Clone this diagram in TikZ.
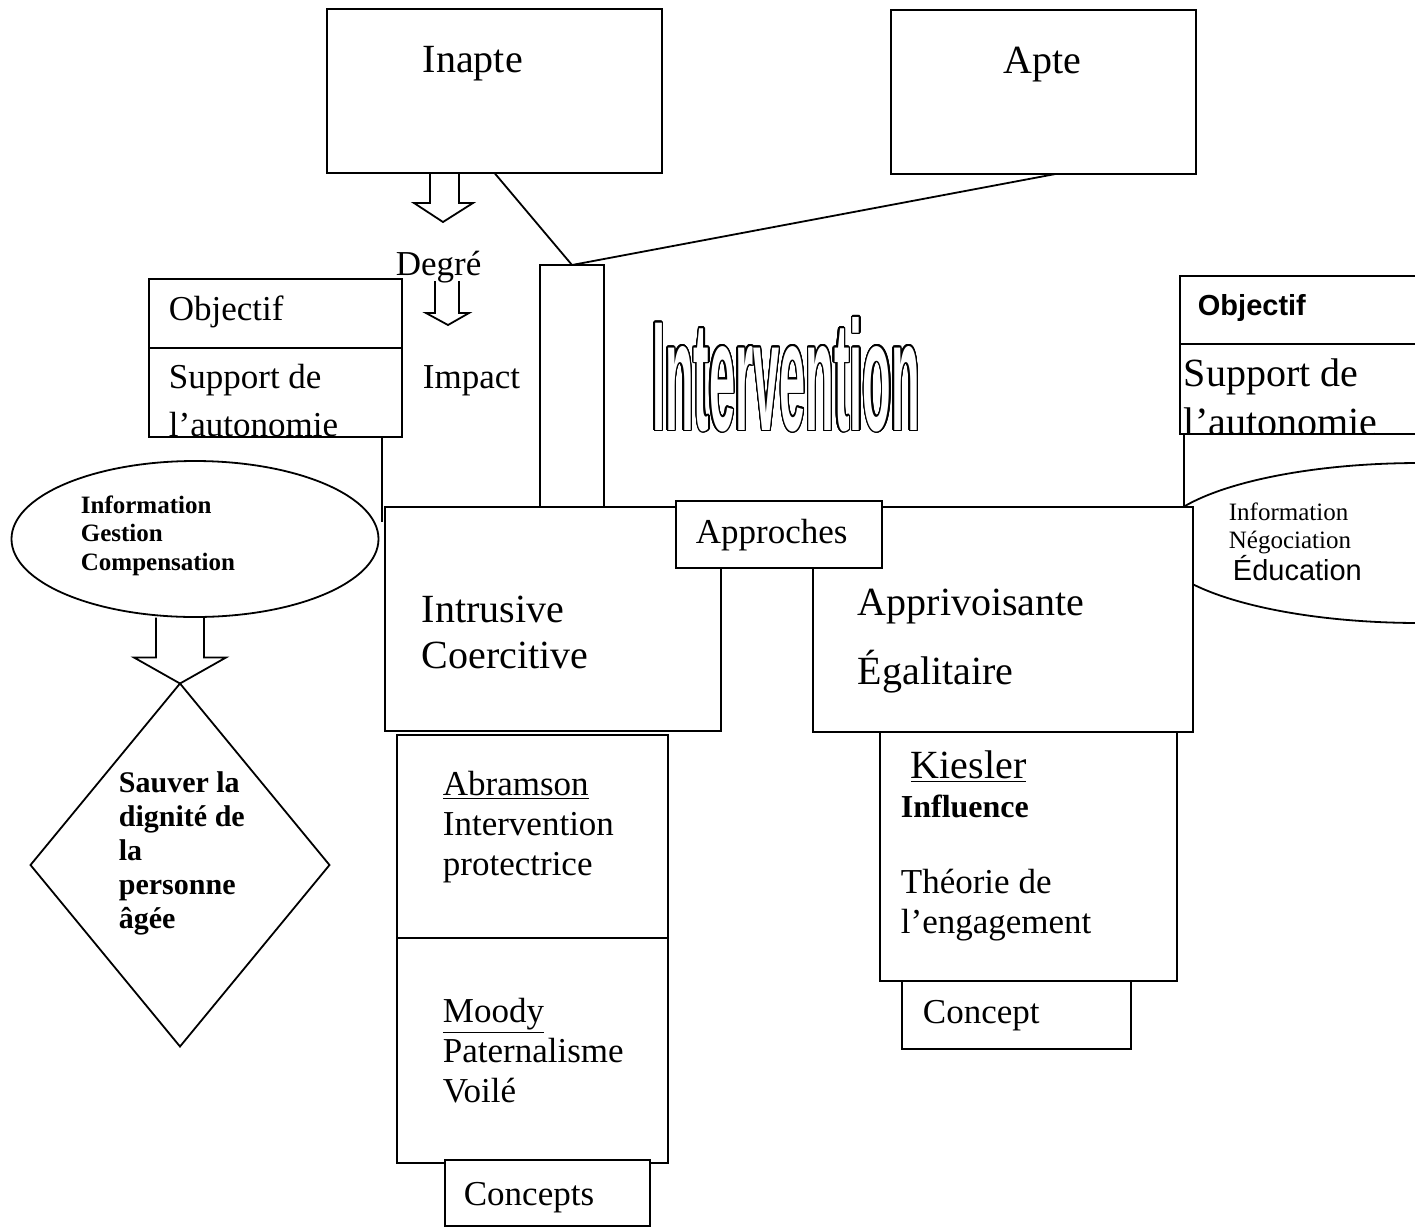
\documentclass[tikz,border=0pt]{standalone}
\usepackage{fontspec}
\setmainfont{Liberation Serif}
\newfontfamily\sansfont{Liberation Sans}
\newfontfamily\outlinefont[FakeStretch=0.3]{Liberation Sans}
\usepackage{contour}
\contourlength{0.7pt}
\contournumber{24}
\usetikzlibrary{shapes.geometric,fit,calc}

\begin{document}
\begin{tikzpicture}[x=0.5pt,y=-0.5pt,line width=0.9pt,
  cadre/.style={draw,fill=white,inner sep=0pt,outer sep=0pt},
  lbl/.style={anchor=base west,inner sep=0pt,align=left},
  bigtxt/.style={font=\fontsize{20}{23}\selectfont},
  midtxt/.style={font=\fontsize{17.5}{20}\selectfont},
  boldtxt/.style={font=\fontsize{12.5}{14.25}\selectfont\bfseries}]
\useasboundingbox (0,0) rectangle (1415,1228);
\clip (0,0) rectangle (1415,1228);

% titre
\node[anchor=base,inner sep=0pt,font=\outlinefont\bfseries\fontsize{78}{78}\selectfont] (titre) at (786,430) {\color{white}\contour{black}{Intervention}};

% ellipses
\node[draw,fill=white,ellipse,inner sep=0pt,outer sep=0pt,minimum width=265pt,minimum height=80pt] (negoc) at (1420,543) {};
\node[draw,fill=white,ellipse,inner sep=0pt,outer sep=0pt,minimum width=183.5pt,minimum height=78pt] (gestion) at (195,539) {};
\node[lbl,boldtxt] (gestiontxt) at (80,570) {Information\\Gestion\\Compensation};

% haut
\node[cadre,fit={(327,9) (662,173)}] (inapte) {};
\node[cadre,fit={(891,10) (1196,174)}] (apte) {};
\node[lbl,bigtxt] (inaptetxt) at (422,72) {Inapte};
\node[lbl,bigtxt] (aptetxt) at (1003,73) {Apte};
\node[cadre,fit={(540,265) (604,507)}] (pilier) {};
\draw (inapte.south) -- (pilier.north);
\draw ($(apte.south)+(12,0)$) -- (pilier.north);

% degre / impact
\draw (430,173) -- (430,203) -- (414,203) -- (443,222) -- (473,203) -- (459,203) -- (459,173);
\node[lbl,midtxt] (degre) at (395,275) {Degré};
\draw (435,281) -- (435,313) -- (426,313) -- (448,325) -- (469,313) -- (459,313) -- (459,281);
\node[lbl,midtxt] (impact) at (422,388) {Impact};

% objectif gauche
\node[cadre,fit={(149,279) (402,437)}] (objG) {};
\draw ($(objG.north west)+(0,69)$) -- ($(objG.north east)+(0,69)$);
\node[lbl,midtxt] (objGtitre) at (168,320) {Objectif};
\begin{scope}
\clip (objG.north west) rectangle (objG.south east);
\node[lbl,midtxt] (objGtxt) at (168,436) {Support de\\[4pt]l’autonomie};
\end{scope}
\coordinate (piedG) at (382,522);
\draw (objG.south east -| piedG) -- (piedG);

% losange
\node[draw,diamond,inner sep=0pt,outer sep=0pt,minimum width=149.5pt,minimum height=181.5pt] (dignite) at (180,865) {};
\draw ($(dignite.north)+(-24,-66)$) -- ++(0,40) -- ++(-22,0) -- (dignite.north) -- ++(46,-26) -- ++(-22,0) -- ++(0,-40);
\node[lbl,font=\fontsize{15}{17}\selectfont\bfseries] (dignitetxt) at (118,928) {Sauver la\\dignité de\\la\\personne\\âgée};

% approches
\node[cadre,fit={(385,507) (721,731)}] (intrusive) {};
\node[cadre,fit={(813,507) (1193,732)}] (apprivoisante) {};
\node[cadre,fit={(676,501) (882,568)}] (approches) {};
\node[lbl,midtxt] (approchestxt) at (695,543) {Approches};
\node[lbl,bigtxt] (intrusivetxt) at (421,668) {Intrusive\\Coercitive};
\node[lbl,bigtxt] (apprivtxt) at (857,684) {Apprivoisante\\[11.5pt]Égalitaire};

% objectif droite
\node[cadre,fit={(1180,276) (1440,434)}] (objD) {};
\draw ($(objD.north west)+(0,68)$) -- ($(objD.north east)+(0,68)$);
\node[lbl,font=\sansfont\bfseries\fontsize{14.5}{16}\selectfont] (objDtitre) at (1197,315) {Objectif};
\begin{scope}
\clip (objD.north west) rectangle (objD.south east);
\node[lbl,bigtxt] (objDtxt) at (1183,435) {Support de\\[1.5pt]l’autonomie};
\end{scope}
\coordinate (piedD) at (1184,507);
\draw (objD.south west -| piedD) -- (piedD);
\node[lbl,font=\fontsize{12.5}{14}\selectfont] (negoctxt) at (1228,548) {Information\\Négociation};
\node[lbl,font=\sansfont\fontsize{14.5}{16}\selectfont] (educ) at (1232,580) {Éducation};

% concepts
\node[cadre,fit={(397,735) (668,1163)}] (abramson) {};
\draw ($(abramson.north west)+(0,203)$) -- ($(abramson.north east)+(0,203)$);
\node[lbl,midtxt] (abramsontxt) at (442,875) {\underline{Abramson}\\Intervention\\protectrice};
\node[lbl,midtxt] (moodytxt) at (442,1102) {\underline{Moody}\\Paternalisme\\Voilé};
\node[cadre,fit={(445,1160) (650,1226)}] (concepts) {};
\node[lbl,midtxt] (conceptstxt) at (463,1205) {Concepts};

\node[cadre,fit={(880,732) (1177,981)}] (kiesler) {};
\node[cadre,fit={(902,981) (1131,1049)}] (concept) {};
\node[lbl,bigtxt] (kieslertxt) at (910,778) {\underline{Kiesler}};
\node[lbl,font=\fontsize{16}{18}\selectfont\bfseries] (influence) at (900,817) {Influence};
\node[lbl,midtxt] (theorie) at (900,933) {Théorie de\\l’engagement};
\node[lbl,midtxt] (concepttxt) at (922,1023) {Concept};
\end{tikzpicture}
\end{document}
